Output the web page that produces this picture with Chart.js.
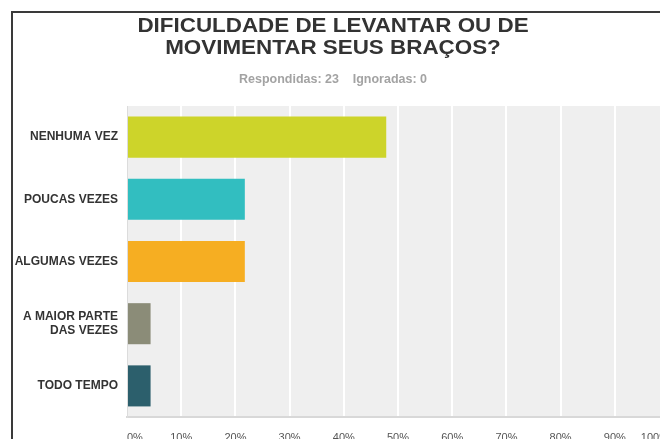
<!DOCTYPE html>
<html lang="pt">
<head>
<meta charset="utf-8">
<title>Dificuldade de levantar ou de movimentar seus braços?</title>
<script src="https://cdn.jsdelivr.net/npm/chart.js@4"></script>
<style>
  body { margin: 0; overflow: hidden; background: #fff; font-family: "Liberation Sans", Arial, sans-serif; }
  #moldura { position: absolute; left: 11px; top: 11px; width: 720px; height: 500px;
             border-left: 2px solid #3a3a3a; border-top: 2px solid #3a3a3a; pointer-events: none; }
  #grafico { position: absolute; left: 0; top: 0; }
  #titulo { position: absolute; left: 13px; top: 14px; width: 640px; text-align: center;
            font-size: 20px; line-height: 22px; font-weight: bold; color: #333;
            transform: scaleX(1.12); }
  #sub { position: absolute; left: 13px; top: 72px; width: 640px; text-align: center;
         font-size: 12px; font-weight: bold; color: #a3a3a3; transform: scaleX(1.04); }
</style>
</head>
<body>
<canvas id="grafico" width="720" height="470"></canvas>
<div id="titulo">DIFICULDADE DE LEVANTAR OU DE<br>MOVIMENTAR SEUS BRAÇOS?</div>
<div id="sub">Respondidas: 23&nbsp;&nbsp;&nbsp; Ignoradas: 0</div>
<div id="moldura"></div>
<script>
// respostas (23 no total), em %
const categorias = ["NENHUMA VEZ", "POUCAS VEZES", "ALGUMAS VEZES", ["A MAIOR PARTE", "DAS VEZES"], "TODO TEMPO"];
const valores = [47.83, 21.74, 21.74, 4.35, 4.35];
const cores = ["#cdd42a", "#32bec0", "#f6ae22", "#8b8c78", "#2c5f6c"];
const ticksX = [0, 10, 20, 30, 40, 50, 60, 70, 80, 90, 100];

const fonte = '"Liberation Sans", Arial, sans-serif';

// fundo cinza da área do gráfico
const fundoArea = {
  id: "fundoArea",
  beforeDraw(chart) {
    const a = chart.chartArea;
    const ctx = chart.ctx;
    ctx.save();
    ctx.fillStyle = "#efefef";
    ctx.fillRect(a.left, a.top, a.right - a.left, a.bottom - a.top);
    ctx.restore();
  }
};

document.addEventListener("DOMContentLoaded", () => {
  const ctx = document.getElementById("grafico");
  new Chart(ctx, {
    type: "bar",
    data: {
      labels: categorias,
      datasets: [{
        data: valores,
        backgroundColor: cores,
        barPercentage: 0.66,
        categoryPercentage: 1
      }]
    },
    options: {
      indexAxis: "y",
      responsive: false,
      animation: false,
      layout: { padding: { top: 106, left: 12, right: 51, bottom: 0 } },
      plugins: {
        legend: { display: false },
        tooltip: { enabled: false }
      },
      scales: {
        x: {
          min: 0,
          max: 100,
          afterFit: (s) => { s.height = 53; },
          afterBuildTicks: (s) => { s.ticks = ticksX.map(v => ({ value: v })); },
          ticks: {
            callback: (v) => v + "%",
            color: "#555",
            font: { family: fonte, size: 11 },
            padding: 14,
            align: "inner",
            maxRotation: 0
          },
          grid: { color: "#ffffff", lineWidth: 2, drawTicks: false },
          border: { color: "#d8d8d8", width: 2 }
        },
        y: {
          afterFit: (s) => { s.width = 115; },
          ticks: {
            color: "#333",
            font: { family: fonte, size: 12, weight: "bold" },
            padding: 9
          },
          grid: { display: false, drawTicks: false },
          border: { color: "#dcdcdc", width: 1 }
        }
      }
    },
    plugins: [fundoArea]
  });
});
</script>
</body>
</html>
